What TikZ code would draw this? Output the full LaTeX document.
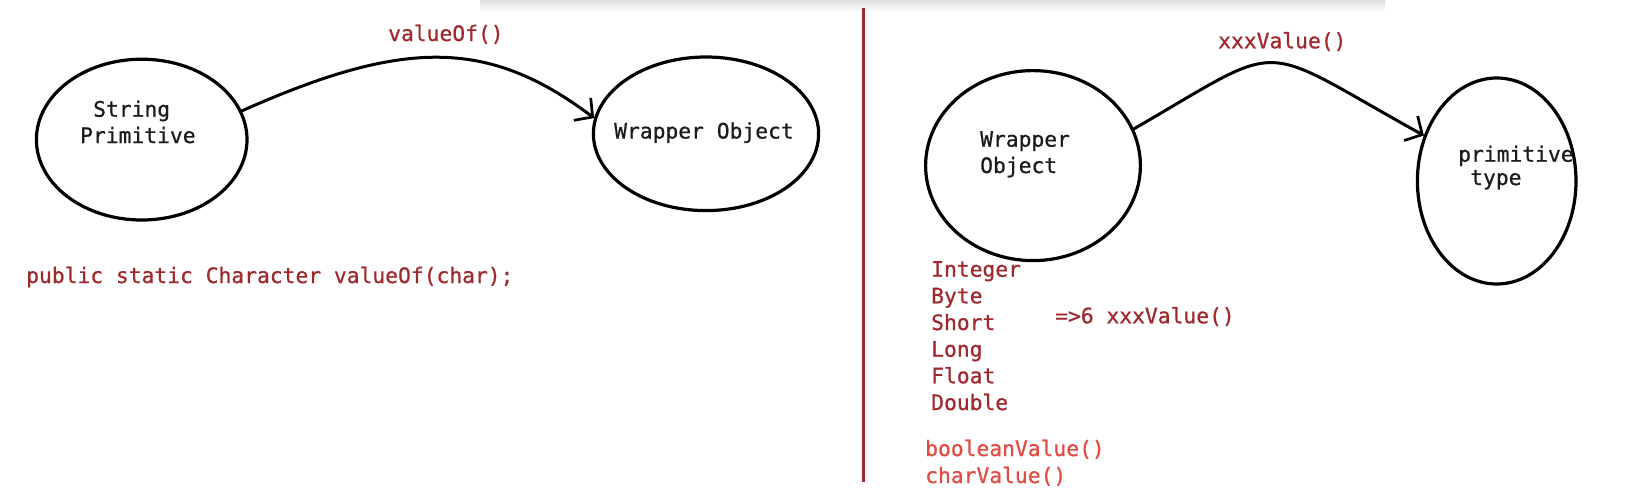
\documentclass[tikz,border=0pt]{standalone}
\usepackage{fontspec}
\newfontfamily\codefont[FakeBold=0.7]{DejaVu Sans Mono}
\usetikzlibrary{arrows.meta,shapes.geometric}
\definecolor{darkred}{HTML}{9E2A2E}
\definecolor{brightred}{HTML}{E24C42}
\definecolor{inkblack}{HTML}{1C1C1C}
\tikzset{
  ell/.style={draw=black, line width=3.2pt, ellipse, inner sep=0pt},
  lbl/.style={font=\codefont\fontsize{21.3}{24}\selectfont, text=inkblack, anchor=base west, inner sep=0pt},
  code/.style={lbl, text=darkred},
  code2/.style={lbl, text=brightred},
  arr/.style={draw=black, line width=3pt, line cap=round, -{Straight Barb[length=13pt,width=28pt,line width=2.7pt]}},
  divider/.style={draw=darkred, line width=3pt}
}
\begin{document}
\begin{tikzpicture}[x=1pt,y=-1pt]
\useasboundingbox (0,0) rectangle (1627,501);
\fill[white] (0,0) rectangle (1627,501);
\shade[top color=black!13, bottom color=white] (480,0) rectangle (1385,12);

% ellipses
\node[ell, minimum width=210.6pt, minimum height=160.8pt] (e1) at (141.7,139.6) {};
\node[ell, minimum width=225.2pt, minimum height=153.6pt] (e2) at (706,133.8) {};
\node[ell, minimum width=214.8pt, minimum height=190pt] (e3) at (1033,165.6) {};
\node[ell, minimum width=158.6pt, minimum height=206pt] (e4) at (1496.7,181) {};

% ellipse texts
\node[lbl] (t1a) at (93,116.7) {String};
\node[lbl] (t1b) at (80,143) {Primitive};
\node[lbl] (t2) at (614,138.5) {Wrapper Object};
\node[lbl] (t3a) at (980,146.7) {Wrapper};
\node[lbl] (t3b) at (980,173) {Object};
\node[lbl] (t4a) at (1458,161.7) {primitive};
\node[lbl] (t4b) at (1470,185) {type};

% arrows
\draw[arr] (e1.16) .. controls +(-24:177) and +(-143:133) .. (e2.172);
\draw[arr] (e3.20) .. controls +(-30:180) and +(-151:196) .. (e4.148);

% arrow labels
\node[code] (l1) at (388,41) {valueOf()};
\node[code] (l2) at (1218,48.3) {xxxValue()};

% divider
\coordinate (dtop) at (863,8);
\coordinate (dbot) at (863,482);
\draw[divider] (dtop) -- (dbot);

% left code
\node[code] (sig) at (26,283) {public static Character valueOf(char);};

% right list
\node[code] (w1) at (931,276.7) {Integer};
\node[code] (w2) at (931,303.3) {Byte};
\node[code] (w3) at (931,330) {Short};
\node[code] (w4) at (931,356.7) {Long};
\node[code] (w5) at (931,383.3) {Float};
\node[code] (w6) at (931,410) {Double};
\node[code] (six) at (1055,323.3) {=>6 xxxValue()};
\node[code2] (bv) at (925,456) {booleanValue()};
\node[code2] (cv) at (925,483) {charValue()};
\end{tikzpicture}
\end{document}
